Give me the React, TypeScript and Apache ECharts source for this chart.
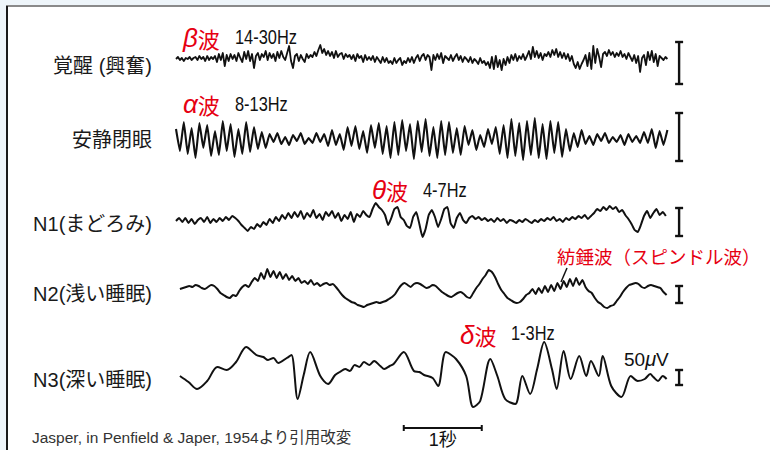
import React, { useEffect, useRef } from 'react';
import * as echarts from 'echarts';

// ---------- texts ----------
const stageLabels = ['覚醒 (興奮)', '安静閉眼', 'N1(まどろみ)', 'N2(浅い睡眠)', 'N3(深い睡眠)'];
const waveNames = ['β', 'α', 'θ', 'δ'];
const waveBands = ['14-30Hz', '8-13Hz', '4-7Hz', '1-3Hz'];
const spindleLabel = '紡錘波（スピンドル波）';
const timeLabel = '1秒';
const sourceNote = 'Jasper, in Penfield & Japer, 1954より引用改変';

// ---------- data (amplitude, up = positive; time in seconds) ----------
const betaStart = 0;
const betaDt = 0.025;
const betaValues = [
  0, 2, -1, 1, -2, 1, 0, 2, -1, 1,
  2, -1, 3, 0, 2, -2, 3, -1, 2, 0,
  3, -3, 5, -1, 6, -7, 4, -2, 5, 0,
  4, -2, 6, 1, -3, 7, 0, 8, -2, 5,
  -9, 3, 6, -1, 5, 2, 8, -1, 6, 1,
  5, -2, 7, 1, 8, 2, -1, 6, 13, -2,
  -9, 3, 5, -2, 4, 0, -3, 5, 1, 4,
  2, 7, 3, 9, 14, 6, 10, 4, 8, 3,
  7, 1, 8, 2, 5, 6, 0, 5, 2, 4,
  0, 4, -2, 5, 1, 3, -3, 4, -1, 2,
  -1, 3, -3, 2, -1, -4, 2, -3, 1, -4,
  -2, -5, 1, -4, -1, 1, -6, -2, -4, 1,
  -3, 2, -4, 1, 4, -2, 3, 5, -1, 4,
  2, -11, 4, -1, 5, 0, 6, -4, 3, 1,
  -1, 4, -2, 2, 5, -1, 3, -3, 2, 0,
  -3, 2, -4, 0, -2, -5, 1, -4, -2, -6,
  -3, -9, 2, -10, 3, -8, -1, -11, 0, -6,
  2, -4, 4, -1, 5, -2, 3, 0, 5, -1,
  3, 8, 0, 12, 2, 8, 1, 6, -1, 5,
  3, 7, 2, 9, 4, 10, 2, 7, 1, 6,
  0, 5, -2, 3, -5, -9, -3, -10, -5, -1,
  4, -7, 6, -10, 13, -4, 10, 2, -8, 5,
  7, 3, 9, 4, 7, 2, 6, 3, 8, 2,
  5, 0, 6, 2, -2, 4, -4, 3, -13, 1,
  4, -6, 7, -1, 8, -3, 5, -7, 3, 1,
  -1, 2, 0,
];

const alphaStart = 0;
const alphaDt = 0.05;
const alphaValues = [
  10, -12, 17, -15, 11, -19, 16, -9, 14, -17,
  8, -16, 18, -12, 15, -18, 10, -15, 17, -13,
  12, -10, 7, -9, 5, -3, 6, -5, 2, -6,
  4, -2, 6, -5, 1, -4, 6, -3, 5, -7,
  9, -6, 5, -11, 12, -7, 13, -10, 8, -14,
  14, -9, 16, -15, 13, -19, 17, -16, 19, -12,
  15, -20, 18, -13, 20, -17, 12, -19, 18, -16,
  17, -14, 11, -16, 13, -6, 9, -11, 4, -8,
  10, -5, 12, -15, 14, -19, 20, -17, 16, -21,
  18, -16, 21, -19, 15, -20, 18, -14, 17, -18,
  10, -12, 6, -8, 9, -5, 3, -6, 5, -2,
  6, -4, 2, -3, 4, -6, 5, -3, 3, -4,
  7, -4, 10, -9, 8, -6, 9,
];

const n1Start = 0;
const n1Dt = 0.04;
const n1Values = [
  0, 3, -1, 3, -2, 2, -3, 1, 3, -1,
  4, -2, 2, -1, 3, 0, 4, 1, 5, 3,
  0, -4, -7, -10, -6, -8, -3, -6, -1, -4,
  2, -2, 4, 0, 6, 2, 8, 3, 9, 4,
  10, 2, 8, 4, 11, 3, 7, 1, 9, 5,
  10, 3, 8, 0, 6, 2, 9, -1, 7, 4,
  10, 6, 4, 12, 18, 14, 11, 6, -4, 3,
  12, 14, 4, 1, -5, -7, 4, 9, -3, -16,
  -8, 6, 11, 4, -6, 2, 12, 14, -2, -7,
  3, 8, 1, -2, 3, 5, 2, 4, 1, 3,
  0, 2, -1, 3, 0, 2, -2, 1, 0, -2,
  1, -1, 2, 0, -2, 1, -1, 2, 0, 3,
  1, 4, 0, 2, -1, 3, 1, 4, 2, 5,
  3, 6, 2, 5, 8, 12, 10, 14, 11, 15,
  12, 14, 9, 11, 6, 2, -3, -9, -11, -4,
  5, 10, 3, 8, 12, 6, 9, 5,
];

const n2Start = 0.05;
const n2Dt = 0.04;
const n2Values = [
  0, 1, 2, 3, 2, 4, 3, 1, 0, 2,
  4, 3, 0, -4, -6, -8, -9, -6, -7, -2,
  2, 4, 2, 7, 11, 8, 16, 10, 20, 12,
  18, 11, 17, 10, 15, 9, 13, 8, 11, 6,
  8, 5, 9, 4, 6, 3, 5, 6, 4, 5,
  2, -2, -6, -9, -11, -13, -14, -16, -17, -18,
  -16, -15, -14, -13, -14, -13, -12, -10, -8, -5,
  0, 4, 6, 4, 2, 5, 6, 5, 3, 1,
  2, 4, 3, 0, -3, -5, -7, -8, -6, -4,
  -3, -5, -8, -9, -4, 1, 5, 10, 14, 19,
  17, 12, 5, -1, -5, -9, -11, -13, -14, -13,
  -10, -6, -4, 0, -5, 1, -4, 3, -3, 4,
  -2, 6, 0, 8, 2, 10, 3, 11, 4, 9,
  2, -2, -4, -9, -13, -15, -18, -19, -17, -16,
  -12, -8, -3, 1, 4, 5, 6, 5, 2, 1,
  3, 4, 3, 2, 1, -3, -6,
];

const n3Times = [
  0.05, 0.16, 0.27, 0.40, 0.53, 0.65, 0.77, 0.90, 1.03, 1.12,
  1.18, 1.25, 1.31, 1.42, 1.48, 1.56, 1.64, 1.72, 1.85, 1.95,
  2.04, 2.10, 2.17, 2.23, 2.29, 2.35, 2.41, 2.48, 2.54, 2.62,
  2.67, 2.74, 2.79, 2.92, 3.05, 3.12, 3.18, 3.29, 3.36, 3.46,
  3.59, 3.72, 3.81, 3.90, 4.03, 4.12, 4.22, 4.35, 4.44, 4.54,
  4.63, 4.72, 4.82, 4.88, 4.97, 5.06, 5.17, 5.26, 5.32, 5.42,
  5.47, 5.58, 5.71, 5.83, 5.92, 6.01, 6.08, 6.12, 6.18, 6.24,
  6.29,
];
const n3Values = [
  3, -3, -10, -2, 12, 9, 17, 32, 24, 22,
  19, 21, 16, 21, 24, -20, 5, 27, 3, -5,
  4, 7, 10, 8, 14, 12, 17, 14, 18, 13,
  10, 13, 15, 27, 8, 7, 4, 1, -7, 27,
  20, 3, -28, -22, 20, 3, -20, -25, 3, -15,
  10, 37, 10, -10, 28, 0, 23, 3, 18, 3,
  23, -7, -18, 3, -2, 0, 5, 2, -2, 3,
  0,
];

// 50 µV calibration bars (low, high) per trace, and their time position
const calibTime = 6.45;
const calibLow = [-25, -22, -15, -14, -6];
const calibHigh = [17, 26, 13, 3, 9];
// 1 second time bar
const secondBarStart = 2.92;
const secondBarEnd = 3.92;
const secondBarLevel = -49;

const LAT = "'Liberation Sans', 'Noto Sans CJK JP', sans-serif";
const JP = "'Noto Sans CJK JP', sans-serif";
const RED = '#e60012';
const INK = '#111';

export default function App() {
  const ref = useRef<HTMLDivElement>(null);
  useEffect(() => {
    document.body.style.margin = '0';
    const chart = echarts.init(ref.current!, undefined, { renderer: 'svg', width: 770, height: 450 });

    const uniform = (vals: number[], t0: number, dt: number) => vals.map((v, i) => [t0 + i * dt, v]);
    const traces = [
      { data: uniform(betaValues, betaStart, betaDt), smooth: false, width: 1.8 },
      { data: uniform(alphaValues, alphaStart, alphaDt), smooth: 0.1, width: 2.1 },
      { data: uniform(n1Values, n1Start, n1Dt), smooth: 0.15, width: 2 },
      { data: uniform(n2Values, n2Start, n2Dt), smooth: 0.15, width: 2 },
      { data: n3Times.map((t, i) => [t, n3Values[i]]), smooth: 0.3, width: 2 },
    ];

    const layout = [
      { top: 19, height: 80, half: 40 },
      { top: 99, height: 80, half: 40 },
      { top: 181, height: 80, half: 40 },
      { top: 249, height: 80, half: 40 },
      { top: 319, height: 120, half: 60 },
    ];

    const grid = layout.map((l) => ({ left: 176, width: 507, top: l.top, height: l.height }));
    const xAxis = layout.map((_, i) => ({ type: 'value', gridIndex: i, min: 0, max: 6.5, show: false }));
    const yAxis = layout.map((l, i) => ({ type: 'value', gridIndex: i, min: -l.half, max: l.half, show: false }));

    const series: any[] = [];
    traces.forEach((tr, i) => {
      series.push({
        type: 'line',
        xAxisIndex: i,
        yAxisIndex: i,
        data: tr.data,
        showSymbol: false,
        symbol: 'none',
        smooth: tr.smooth,
        lineStyle: { color: INK, width: tr.width, join: 'round' },
        silent: true,
      });
      series.push({
        type: 'custom',
        xAxisIndex: i,
        yAxisIndex: i,
        data: [[calibTime, calibLow[i], calibHigh[i]]],
        encode: { x: 0, y: [1, 2] },
        clip: false,
        silent: true,
        renderItem: (params: any, api: any) => {
          const hi = api.coord([api.value(0), api.value(2)]);
          const lo = api.coord([api.value(0), api.value(1)]);
          const x = hi[0];
          const st = { stroke: INK, lineWidth: 2.4 };
          return {
            type: 'group',
            children: [
              { type: 'line', shape: { x1: x, y1: hi[1], x2: x, y2: lo[1] }, style: st },
              { type: 'line', shape: { x1: x - 4, y1: hi[1], x2: x + 4, y2: hi[1] }, style: st },
              { type: 'line', shape: { x1: x - 4, y1: lo[1], x2: x + 4, y2: lo[1] }, style: st },
            ],
          };
        },
      });
    });
    series.push({
      type: 'custom',
      xAxisIndex: 4,
      yAxisIndex: 4,
      data: [[secondBarStart, secondBarEnd, secondBarLevel]],
      encode: { x: [0, 1], y: 2 },
      clip: false,
      silent: true,
      renderItem: (params: any, api: any) => {
        const a = api.coord([api.value(0), api.value(2)]);
        const b = api.coord([api.value(1), api.value(2)]);
        const st = { stroke: INK, lineWidth: 2 };
        return {
          type: 'group',
          children: [
            { type: 'line', shape: { x1: a[0], y1: a[1], x2: b[0], y2: b[1] }, style: st },
            { type: 'line', shape: { x1: a[0], y1: a[1] - 3, x2: a[0], y2: a[1] + 3 }, style: st },
            { type: 'line', shape: { x1: b[0], y1: b[1] - 3, x2: b[0], y2: b[1] + 3 }, style: st },
            {
              type: 'text',
              x: (a[0] + b[0]) / 2,
              y: a[1] + 12,
              style: { text: timeLabel, fill: INK, fontSize: 18, fontFamily: LAT, align: 'center', verticalAlign: 'middle' },
            },
          ],
        };
      },
    });

    const stageY = [66, 140, 224, 294, 380];
    const waveLabelPos = [
      [183, 38, 235, 37],
      [183, 104, 235, 104],
      [372, 190, 423, 190],
      [460, 335, 511, 333],
    ];

    const graphic: any[] = [
      { type: 'rect', shape: { x: 0, y: 0, width: 770, height: 6 }, style: { fill: '#eef5fa' }, silent: true },
      { type: 'rect', shape: { x: 0, y: 0, width: 6, height: 450 }, style: { fill: '#eef5fa' }, silent: true },
      { type: 'rect', shape: { x: 6, y: 5, width: 764, height: 2 }, style: { fill: '#8a8a8a' }, silent: true },
      { type: 'rect', shape: { x: 6, y: 6, width: 2, height: 444 }, style: { fill: '#1a1a1a' }, silent: true },
    ];
    stageLabels.forEach((s, i) => {
      graphic.push({
        type: 'text',
        x: 152,
        y: stageY[i],
        style: { text: s, fill: '#1a1a1a', fontSize: 20, fontFamily: LAT, align: 'right', verticalAlign: 'middle' },
      });
    });
    waveNames.forEach((g, i) => {
      const p = waveLabelPos[i];
      graphic.push({
        type: 'text',
        x: p[0],
        y: p[1],
        style: {
          text: `{g|${g}}{w|波}`,
          align: 'left',
          verticalAlign: 'middle',
          rich: {
            g: { fontSize: 26, fontStyle: 'italic', fontFamily: "'Liberation Sans', sans-serif", fill: RED },
            w: { fontSize: 22, fontFamily: JP, fill: RED },
          },
        },
      });
      graphic.push({
        type: 'text',
        x: p[2],
        y: p[3],
        scaleX: 0.78,
        style: { text: waveBands[i], fill: INK, fontSize: 21, fontFamily: LAT, align: 'left', verticalAlign: 'middle' },
      });
    });
    graphic.push({
      type: 'text',
      x: 557,
      y: 256,
      style: { text: spindleLabel, fill: RED, fontSize: 18.5, fontFamily: JP, align: 'left', verticalAlign: 'middle' },
    });
    graphic.push({
      type: 'line',
      shape: { x1: 567, y1: 268, x2: 561, y2: 282 },
      style: { stroke: INK, lineWidth: 1.5 },
    });
    graphic.push({
      type: 'text',
      x: 624,
      y: 359,
      style: {
        text: '{n|50}{m|μ}{n|V}',
        align: 'left',
        verticalAlign: 'middle',
        rich: {
          n: { fontSize: 19, fontFamily: LAT, fill: INK },
          m: { fontSize: 20, fontStyle: 'italic', fontFamily: "'Liberation Sans', sans-serif", fill: INK },
        },
      },
    });
    graphic.push({
      type: 'text',
      x: 32,
      y: 437,
      style: { text: sourceNote, fill: '#333', fontSize: 15.5, fontFamily: LAT, align: 'left', verticalAlign: 'middle' },
    });

    chart.setOption({
      animation: false,
      backgroundColor: '#ffffff',
      grid,
      xAxis,
      yAxis,
      series,
      graphic,
    });
    return () => chart.dispose();
  }, []);
  return <div ref={ref} style={{ width: 770, height: 450, position: 'absolute', left: 0, top: 0 }} />;
}
